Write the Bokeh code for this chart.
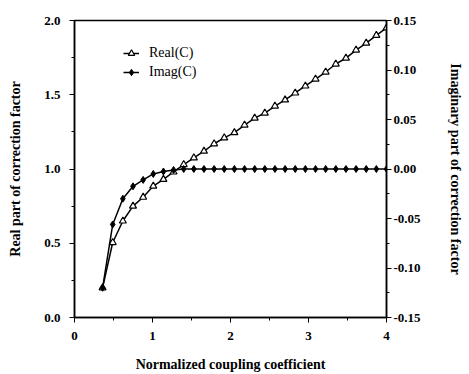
from bokeh.plotting import figure
from bokeh.models import LinearAxis, Range1d, Legend, LegendItem, FixedTicker, NumeralTickFormatter, CustomJSTickFormatter
from bokeh.embed import file_html
from bokeh.resources import INLINE

x_vals = [0.36, 0.49, 0.62, 0.75, 0.88, 1.01, 1.14, 1.27, 1.40, 1.53,
          1.66, 1.79, 1.92, 2.05, 2.18, 2.31, 2.44, 2.57, 2.70, 2.83,
          2.96, 3.09, 3.22, 3.35, 3.48, 3.61, 3.74, 3.87, 4.00]
real_c = [0.20, 0.505, 0.65, 0.75, 0.81, 0.885, 0.93, 0.98, 1.03, 1.075,
          1.12, 1.17, 1.21, 1.245, 1.296, 1.343, 1.377, 1.424, 1.465, 1.512,
          1.559, 1.606, 1.653, 1.707, 1.747, 1.801, 1.848, 1.90, 1.95]
imag_c = [-0.12, -0.056, -0.030, -0.0175, -0.011, -0.005, -0.0025, -0.001, 0.0, 0.0,
          0.0, 0.0, 0.0, 0.0, 0.0, 0.0, 0.0, 0.0, 0.0, 0.0,
          0.0, 0.0, 0.0, 0.0, 0.0, 0.0, 0.0, 0.0, 0.0]

x_ticks = [0, 1, 2, 3, 4]
left_ticks = [0.0, 0.5, 1.0, 1.5, 2.0]
right_ticks = [-0.15, -0.10, -0.05, 0.0, 0.05, 0.10, 0.15]

FONT = "Liberation Serif"

p = figure(width=469, height=374, output_backend="svg", toolbar_location=None,
           x_range=Range1d(0, 4), y_range=Range1d(0, 2))
p.extra_y_ranges = {"imag": Range1d(-0.15, 0.15)}
p.min_border_left = 74
p.min_border_right = 83
p.min_border_top = 20
p.min_border_bottom = 57
p.xgrid.visible = False
p.ygrid.visible = False
p.outline_line_color = "black"
p.outline_line_width = 1.5
p.background_fill_color = "white"

r_line = p.line(x_vals, real_c, line_color="black", line_width=1.5)
r_pts = p.scatter(x_vals, real_c, marker="triangle", size=7, line_color="black",
                  fill_color="white", line_width=1.2)
i_line = p.line(x_vals, imag_c, line_color="black", line_width=1.5, y_range_name="imag")
i_pts = p.scatter(x_vals, imag_c, marker="diamond", size=7, line_color="black",
                  fill_color="black", y_range_name="imag")

def style_axis(ax):
    ax.axis_line_color = "black"
    ax.axis_line_width = 1.5
    ax.major_tick_line_color = "black"
    ax.minor_tick_line_color = "black"
    ax.major_tick_out = 5
    ax.major_tick_in = 0
    ax.minor_tick_out = 3
    ax.minor_tick_in = 0
    ax.major_label_text_font = FONT
    ax.major_label_text_font_style = "bold"
    ax.major_label_text_font_size = "13px"
    ax.major_label_text_color = "black"
    ax.axis_label_text_font = FONT
    ax.axis_label_text_font_style = "bold"
    ax.axis_label_text_font_size = "14px"
    ax.axis_label_text_color = "black"

xa = p.xaxis[0]
style_axis(xa)
xa.ticker = FixedTicker(ticks=x_ticks, minor_ticks=[0.5, 1.5, 2.5, 3.5])
xa.axis_label = "Normalized coupling coefficient"
xa.major_label_standoff = 9
xa.axis_label_standoff = 14

ya = p.yaxis[0]
style_axis(ya)
ya.ticker = FixedTicker(ticks=left_ticks, minor_ticks=[0.25, 0.75, 1.25, 1.75])
ya.formatter = NumeralTickFormatter(format="0.0")
ya.axis_label = "Real part of correction factor"
ya.major_label_standoff = 9
ya.axis_label_standoff = 18

ra = LinearAxis(y_range_name="imag")
style_axis(ra)
ra.ticker = FixedTicker(ticks=right_ticks, minor_ticks=[-0.125, -0.075, -0.025, 0.025, 0.075, 0.125])
ra.formatter = CustomJSTickFormatter(code="return tick.toFixed(2);")
ra.axis_label = "Imaginary part of correction factor"
ra.major_label_standoff = 2
ra.axis_label_standoff = 24
p.add_layout(ra, "right")

legend = Legend(items=[LegendItem(label="Real(C)", renderers=[r_line, r_pts]),
                       LegendItem(label="Imag(C)", renderers=[i_line, i_pts])],
                location=(49, 237))
legend.border_line_color = None
legend.background_fill_alpha = 0
legend.padding = 0
legend.margin = 0
legend.spacing = 3
legend.glyph_width = 16
legend.glyph_height = 16
legend.label_height = 16
legend.label_standoff = 10
legend.label_text_font = FONT
legend.label_text_font_size = "14px"
legend.label_text_color = "black"
p.add_layout(legend)

open("out.html", "w").write(file_html(p, INLINE))
